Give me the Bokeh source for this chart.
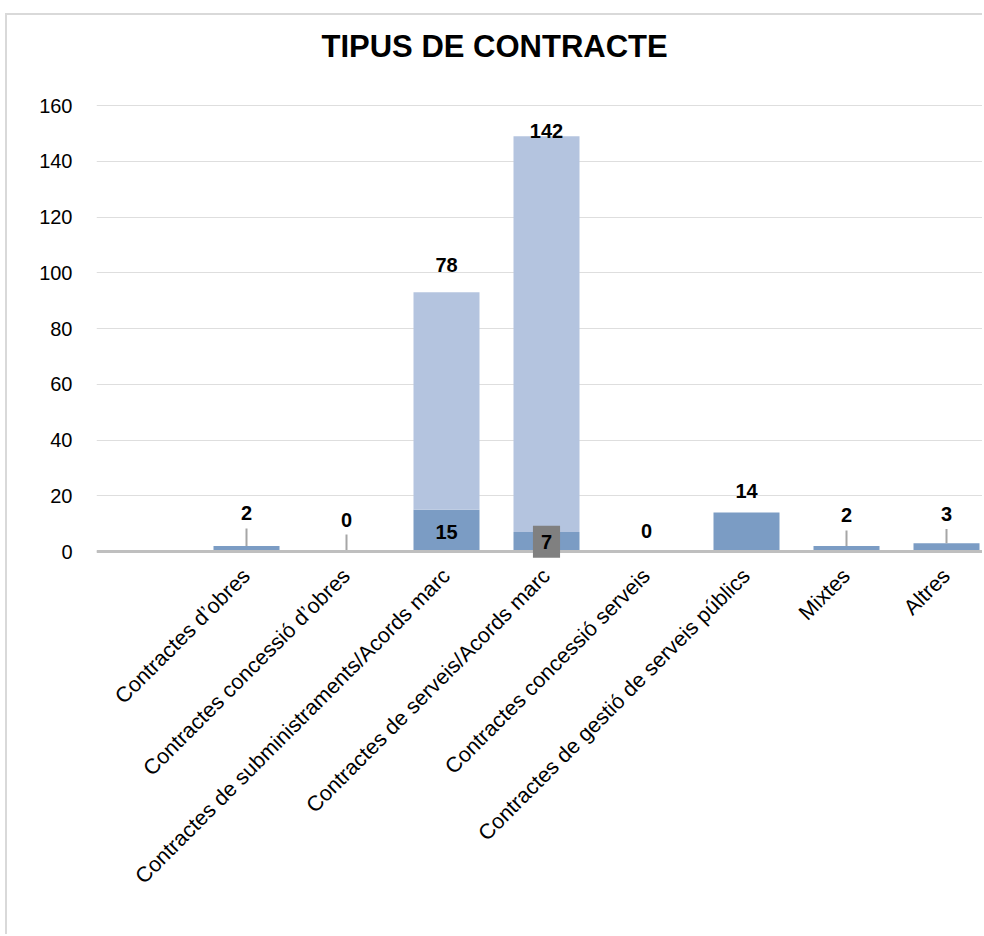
import math
from bokeh.plotting import figure
from bokeh.models import Range1d, FixedTicker, ColumnDataSource, Label, Span
from bokeh.embed import file_html
from bokeh.resources import INLINE
from bokeh.core.properties import value

# ---- data ----
categories = [
    "Contractes d’obres",
    "Contractes concessió d’obres",
    "Contractes de subministraments/Acords marc",
    "Contractes de serveis/Acords marc",
    "Contractes concessió serveis",
    "Contractes de gestió de serveis públics",
    "Mixtes",
    "Altres",
]
serie_base = [2, 0, 15, 7, 0, 14, 2, 3]
serie_extra = [0, 0, 78, 142, 0, 0, 0, 0]
y_ticks = [0, 20, 40, 60, 80, 100, 120, 140, 160]

# ---- styling / label placement (pixels) ----
DARK = "#7b9cc4"
LIGHT = "#b4c4df"
FONT = "Liberation Sans"
base_inside = [False, False, True, True, False, False, False, False]
base_dy = [-33.4, -31.5, 1, 1, -20.6, -21.5, -30.6, -28.7]
leader_len = [6.25, 6.1, 0, 0, 0, 0, 5.5, 5.1]
extra_dy = [0, 0, -26.8, -5.2, 0, 0, 0, 0]
boxed = [False, False, False, True, False, False, False, False]

xs = [i + 1 for i in range(len(categories))]  # slot 0 is an empty category
tops = [a + b for a, b in zip(serie_base, serie_extra)]

p = figure(
    width=977, height=921,
    x_range=Range1d(-0.5, 8.38), y_range=Range1d(-2.511, 171.48),
    output_backend="svg", toolbar_location=None,
    min_border_left=89, min_border_right=0, min_border_top=58, min_border_bottom=378,
    margin=(13, 0, 0, 5),
    styles={"border-left": "2px solid #d9d9d9", "border-top": "2px solid #d9d9d9"},
)
p.outline_line_color = None
p.background_fill_color = "white"
p.border_fill_color = "white"

p.title.text = "TIPUS DE CONTRACTE"
p.title.text_font = FONT
p.title.text_font_size = "31px"
p.title.text_font_style = "bold"
p.title.text_color = "black"
p.title.align = "left"
p.title.offset = 225
p.title.standoff = 20

# axes
p.xaxis.ticker = FixedTicker(ticks=xs)
p.xaxis.major_label_overrides = {x: c for x, c in zip(xs, categories)}
p.xaxis.major_label_orientation = math.pi / 4
p.xaxis.major_label_text_font = FONT
p.xaxis.major_label_text_font_size = "21.5px"
p.xaxis.major_label_text_color = "black"
p.xaxis.axis_line_color = None
p.xaxis.major_tick_line_color = None
p.xaxis.minor_tick_line_color = None
p.xaxis.major_label_standoff = 8

p.yaxis.ticker = FixedTicker(ticks=y_ticks)
p.yaxis.axis_line_color = None
p.yaxis.major_tick_line_color = None
p.yaxis.minor_tick_line_color = None
p.yaxis.major_label_text_font = FONT
p.yaxis.major_label_text_font_size = "20px"
p.yaxis.major_label_text_color = "black"
p.yaxis.major_label_standoff = 18

p.xgrid.grid_line_color = None
p.ygrid.ticker = FixedTicker(ticks=y_ticks)
p.ygrid.grid_line_color = "#dedede"
p.ygrid.grid_line_width = 1

# bars
p.vbar(x=xs, top=serie_base, bottom=0, width=0.66, fill_color=DARK, line_color=None)
p.vbar(x=xs, top=tops, bottom=serie_base, width=0.66, fill_color=LIGHT, line_color=None)

# category axis line at zero
p.add_layout(Span(location=0, dimension="width", line_color="#bfbfbf", line_width=3))

# leader lines
lx0, ly0, ly1 = [], [], []
for x, v, L in zip(xs, serie_base, leader_len):
    if L > 0:
        lx0.append(x); ly0.append(v); ly1.append(v + L)
p.segment(x0=lx0, y0=ly0, x1=lx0, y1=ly1, line_color="#a6a6a6", line_width=2)

# labels of base series
bx, by, bt, bo = [], [], [], []
for x, v, ins, dy, bxd in zip(xs, serie_base, base_inside, base_dy, boxed):
    if bxd:
        continue
    bx.append(x)
    by.append(v / 2 if ins else v)
    bt.append(str(v))
    bo.append(dy)
src = ColumnDataSource(dict(x=bx, y=by, t=bt, o=bo))
p.text(x="x", y="y", text="t", y_offset="o", source=src, text_font=value(FONT),
       text_font_size="20px", text_font_style="bold", text_color="black",
       text_align="center", text_baseline="middle")

for x, v, bxd in zip(xs, serie_base, boxed):
    if bxd:
        p.add_layout(Label(x=x, y=v / 2, text=str(v), text_font=FONT, text_font_size="20px",
                           text_font_style="bold", text_color="black", text_align="center",
                           text_baseline="middle", background_fill_color="#808080",
                           padding=dict(left=8, right=8, top=9, bottom=9), level="overlay"))

# labels of extra series
ex, ey, et, eo = [], [], [], []
for x, b, v, dy in zip(xs, serie_base, serie_extra, extra_dy):
    if v > 0:
        ex.append(x); ey.append(b + v); et.append(str(v)); eo.append(dy)
src2 = ColumnDataSource(dict(x=ex, y=ey, t=et, o=eo))
p.text(x="x", y="y", text="t", y_offset="o", source=src2, text_font=value(FONT),
       text_font_size="20px", text_font_style="bold", text_color="black",
       text_align="center", text_baseline="middle")

open("out.html", "w").write(file_html(p, INLINE))
